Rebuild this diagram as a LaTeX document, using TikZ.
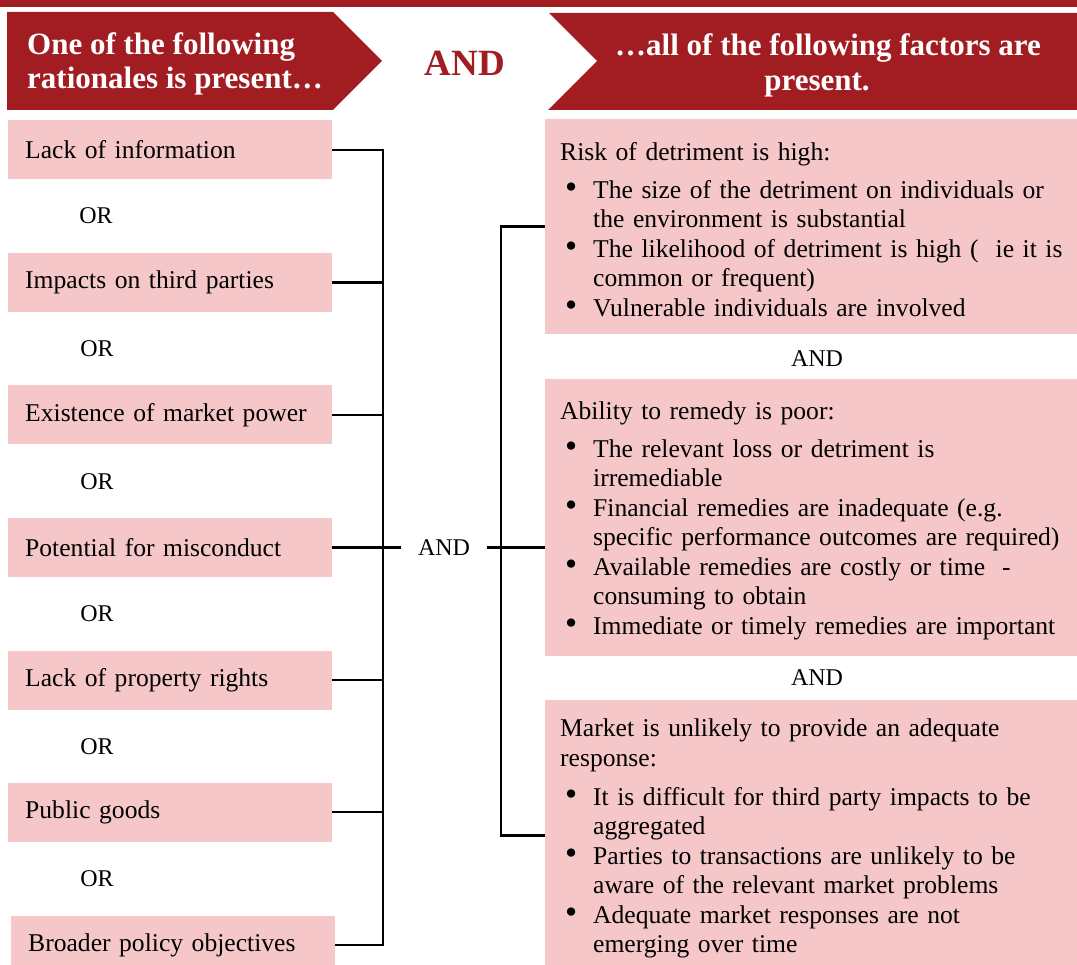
\documentclass[tikz,border=0pt]{standalone}
\usepackage{fontspec}
\usepackage{graphicx}
\setmainfont{Liberation Serif}
\definecolor{hdred}{RGB}{161,29,33}
\definecolor{boxpink}{RGB}{245,199,201}

% bullet line with hanging indent for the factor boxes
\newcommand{\factoritem}{\par\hangindent=33pt\hangafter=1\noindent\makebox[33pt][l]{\hspace{5pt}\raisebox{-0.5pt}{\scalebox{1.35}{\textbullet}}}}
% fixed height for the first line of a factor box
\newcommand{\toprule}{\rule{0pt}{24pt}}

\tikzset{
  hdtext/.style={text=white, font=\fontsize{31}{33.5}\selectfont\bfseries, inner sep=0pt},
  rationale/.style={fill=boxpink, anchor=west, text width=290pt, inner xsep=17pt, inner ysep=0pt,
    minimum height=59pt, align=left, font=\fontsize{25.6}{29.5}\selectfont},
  orlabel/.style={font=\fontsize{24}{26}\selectfont, inner sep=0pt},
  andlabel/.style={font=\fontsize{24}{26}\selectfont, inner xsep=17pt, inner ysep=2pt},
  factor/.style={fill=boxpink, anchor=north west, text width=530pt, inner xsep=15pt, inner ysep=0pt,
    align=left, font=\fontsize{25.6}{29.5}\selectfont},
  conn/.style={draw=black, line width=2.8pt}
}

\begin{document}
\begin{tikzpicture}[x=1pt, y=-1pt]
\useasboundingbox (0,0) rectangle (1077,965);
\clip (0,0) rectangle (1077,965);
\fill[white] (0,0) rectangle (1077,965);

% top rule and the two header banners
\fill[hdred] (0,0) rectangle (1077,7);
\fill[hdred] (7,12) -- (333,12) -- (382,61) -- (333,110) -- (7,110) -- cycle;
\fill[hdred] (549,13) -- (1090,13) -- (1090,110) -- (548,110) -- (597,61) -- cycle;

\node[hdtext, anchor=west, align=left] (hleft) at (27,64) {One of the following\\rationales is present…};
\node[font=\fontsize{37}{40}\selectfont\bfseries, text=hdred, inner sep=0pt] (hand) at (465,63) {AND};
\node[hdtext, align=center, font=\fontsize{31}{35}\selectfont\bfseries] (hright) at (828,65) {…all of the following factors are\\present.\hspace*{22pt}};

% rationales (left column)
\node[rationale] (r1) at (8,150) {Lack of information};
\node[orlabel] (o1) at (96,216) {OR};
\node[rationale] (r2) at (8,282.5) {Impacts on third parties};
\node[orlabel] (o2) at (97,349) {OR};
\node[rationale] (r3) at (8,415) {Existence of market power};
\node[orlabel] (o3) at (97,481.5) {OR};
\node[rationale] (r4) at (8,547.5) {Potential for misconduct};
\node[orlabel] (o4) at (97,614) {OR};
\node[rationale] (r5) at (8,680) {Lack of property rights};
\node[orlabel] (o5) at (97,746.5) {OR};
\node[rationale] (r6) at (8,812) {Public goods};
\node[orlabel] (o6) at (97,879) {OR};
\node[rationale] (r7) at (11,945) {Broader policy objectives};

% central AND
\node[andlabel] (mand) at (444,547.5) {AND};

% factors (right column)
\node[factor, minimum height=215pt] (f1) at (545,119) {\toprule Risk of detriment is high:\par\vspace{8pt}
\factoritem The size of the detriment on individuals or\newline the environment is substantial
\factoritem The likelihood of detriment is high (~ ie it is\newline common or frequent)
\factoritem Vulnerable individuals are involved\par};

\node[orlabel] (a1) at (817,359) {AND};

\node[factor, minimum height=277pt] (f2) at (545,379) {\toprule Ability to remedy is poor:\par\vspace{8pt}
\factoritem The relevant loss or detriment is\newline irremediable
\factoritem Financial remedies are inadequate (e.g.\newline specific performance outcomes are required)
\factoritem Available remedies are costly or time~ -\newline consuming to obtain
\factoritem Immediate or timely remedies are important\par};

\node[orlabel] (a2) at (817,678) {AND};

\node[factor, minimum height=271pt] (f3) at (545,700) {\toprule Market is unlikely to provide an adequate\newline response:\par\vspace{9.5pt}
\factoritem It is difficult for third party impacts to be\newline aggregated
\factoritem Parties to transactions are unlikely to be\newline aware of the relevant market problems
\factoritem Adequate market responses are not\newline emerging over time\par};

% bracket joining the rationales
\coordinate (lbus) at (383,0);
\draw[conn] (r1.east) -| (lbus |- r7.east) -- (r7.east);
\foreach \i in {2,3,5,6} \draw[conn] (r\i.east) -- (r\i.east -| lbus);
\draw[conn] (r4.east) -- (mand.west);

% bracket joining the factors
\coordinate (rbus) at (501,0);
\draw[conn] (f1.west) -| (rbus |- f3.west) -- (f3.west);
\draw[conn] (mand.east) -- (mand.east -| f2.west);
\end{tikzpicture}
\end{document}
